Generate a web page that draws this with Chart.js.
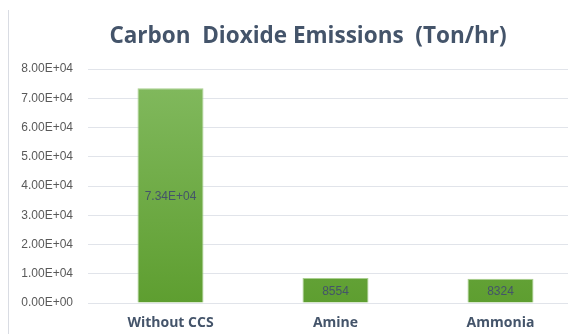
<!DOCTYPE html>
<html>
<head>
<meta charset="utf-8">
<script src="https://cdn.jsdelivr.net/npm/chart.js@4/dist/chart.umd.min.js"></script>
<style>
  html, body { margin: 0; padding: 0; background: #fff; overflow: hidden; }
  #wrap { position: relative; width: 568px; height: 334px; overflow: hidden; }
  #frame { position: absolute; left: 8px; top: 10px; bottom: 0; border-left: 1px solid #d9dce3; }
  #co2Chart { position: absolute; left: 0; top: 0; }
</style>
</head>
<body>
<div id="wrap">
  <div id="frame"></div>
  <canvas id="co2Chart" width="616" height="334"></canvas>
</div>
<script>
// === DATOS ===
const titulo = "Carbon  Dioxide Emissions  (Ton/hr)";
const categorias = ["Without CCS", "Amine", "Ammonia"];
const emisiones = [73400, 8554, 8324];
const etiquetas = ["7.34E+04", "8554", "8324"];

// formato tipo Excel: 8.00E+04
function sci(v) {
  const [m, e] = v.toExponential(2).toUpperCase().split("E");
  const n = parseInt(e, 10);
  return m + "E" + (n < 0 ? "-" : "+") + String(Math.abs(n)).padStart(2, "0");
}

// etiquetas dentro de cada barra, centradas
const etiquetasBarras = {
  id: "etiquetasBarras",
  afterDatasetsDraw(chart) {
    const ctx = chart.ctx;
    const meta = chart.getDatasetMeta(0);
    ctx.save();
    ctx.font = "12px 'Liberation Sans', Arial, sans-serif";
    ctx.fillStyle = "#44546a";
    ctx.textAlign = "center";
    ctx.textBaseline = "middle";
    meta.data.forEach((bar, i) => {
      ctx.fillText(etiquetas[i], bar.x, (bar.y + bar.base) / 2 + 1);
    });
    ctx.restore();
  }
};

// título centrado sobre el marco visible
const tituloPlugin = {
  id: "tituloPlugin",
  afterDraw(chart) {
    const ctx = chart.ctx;
    ctx.save();
    ctx.font = "bold 22.5px 'Open Sans', sans-serif";
    ctx.fillStyle = "#44546a";
    ctx.textAlign = "center";
    ctx.textBaseline = "middle";
    ctx.fillText(titulo, 308, 37);
    ctx.restore();
  }
};

const ctx = document.getElementById("co2Chart");
const g = ctx.getContext("2d");

new Chart(ctx, {
  type: "bar",
  data: {
    labels: categorias,
    datasets: [{
      data: emisiones,
      backgroundColor: (c) => {
        const area = c.chart.chartArea;
        if (!area) return "#70ad47";
        const grad = g.createLinearGradient(0, area.top + 20, 0, area.bottom);
        grad.addColorStop(0, "#80b85c");
        grad.addColorStop(1, "#5e9e30");
        return grad;
      },
      borderColor: "#a9cf8f",
      borderWidth: 1,
      categoryPercentage: 1,
      barPercentage: 0.4,
    }],
  },
  options: {
    responsive: false,
    animation: false,
    layout: { padding: { left: 0, right: 33, top: 69, bottom: 0 } },
    plugins: {
      legend: { display: false },
      tooltip: { enabled: false },
      title: { display: false },
    },
    scales: {
      x: {
        afterFit(scale) { scale.height = 31; },
        grid: { display: false, drawTicks: false },
        border: { display: false },
        ticks: {
          color: "#44546a",
          font: { family: "'Open Sans', sans-serif", size: 14, weight: "bold", lineHeight: 1.2 },
          padding: 12,
          maxRotation: 0,
          autoSkip: false,
        },
      },
      y: {
        min: 0,
        max: 80000,
        afterFit(scale) { scale.width = 88; },
        grid: { color: "#e1e4ea", lineWidth: 1, drawTicks: false },
        border: { display: false },
        ticks: {
          stepSize: 10000,
          autoSkip: false,
          color: "#595959",
          font: { family: "'Liberation Sans', Arial, sans-serif", size: 12 },
          padding: 15,
          callback: (v) => sci(v),
        },
      },
    },
  },
  plugins: [etiquetasBarras, tituloPlugin],
});
</script>
</body>
</html>
